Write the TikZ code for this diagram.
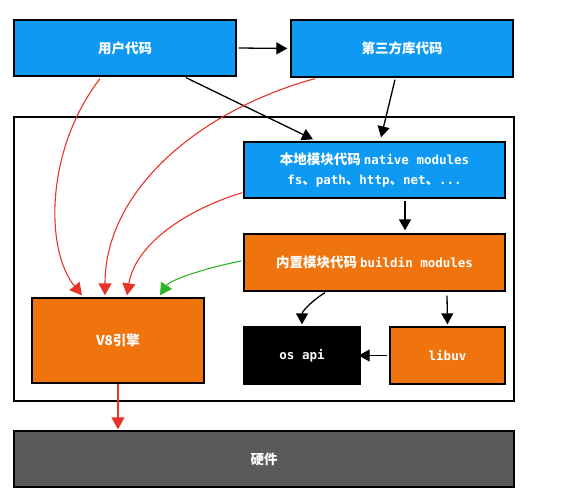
\documentclass[tikz,border=0pt]{standalone}
\usepackage{fontspec}
\setmainfont{Noto Sans CJK SC}
\newfontfamily\mono{DejaVu Sans Mono}
\usetikzlibrary{arrows.meta,calc}
\definecolor{cblue}{RGB}{14,154,242}
\definecolor{corange}{RGB}{240,116,14}
\definecolor{cgray}{RGB}{90,90,90}
\definecolor{cred}{RGB}{232,52,40}
\definecolor{cgreen}{RGB}{50,180,40}
\tikzset{
  box/.style={draw=black,line width=1.3pt,text=white,inner sep=0pt,font=\bfseries\fontsize{13.5}{16}\selectfont},
  bluebox/.style={box,fill=cblue},
  orangebox/.style={box,fill=corange},
  blackbox/.style={box,fill=black},
  graybox/.style={box,fill=cgray},
  blk/.style={line width=1.3pt,-{Triangle[width=12pt,length=11pt]}},
  redarr/.style={cred,line width=1.1pt,-{Triangle[width=13pt,length=12pt]}},
  greenarr/.style={cgreen,line width=1.1pt,-{Triangle[width=13pt,length=12pt]}},
}
\newcommand{\mt}[1]{{\mono\fontsize{12.5}{15}\selectfont #1}}
\begin{document}
\begin{tikzpicture}[x=1pt,y=-1pt]
\useasboundingbox (0,0) rectangle (567,500);
\fill[white] (0,0) rectangle (567,500);
% outer container
\node[draw=black,line width=1.3pt,minimum width=500pt,minimum height=284pt,inner sep=0pt] (outer) at (264,259) {};
\node[bluebox,minimum width=222pt,minimum height=56pt] (user) at (125,48) {用户代码};
\node[bluebox,minimum width=222pt,minimum height=57pt] (third) at (402,48.5) {第三方库代码};
\node[bluebox,minimum width=261pt,minimum height=56pt,align=center] (native) at (374.5,170)
  {本地模块代码 \mt{native modules}\\[4pt]\mt{fs}、\mt{path}、\mt{http}、\mt{net}、\mt{...}};
\node[orangebox,minimum width=261pt,minimum height=57pt] (buildin) at (374.5,262.5)
  {内置模块代码 \mt{buildin modules}};
\node[orangebox,minimum width=172pt,minimum height=85pt] (v8) at (118,340.5) {V8引擎};
\node[blackbox,minimum width=116pt,minimum height=57pt] (osapi) at (302,355.5) {\mt{os api}};
\node[orangebox,minimum width=115pt,minimum height=57pt] (libuv) at (447.5,355.5) {\mt{libuv}};
\node[graybox,minimum width=500pt,minimum height=56pt] (hw) at (264,459) {硬件};
% black arrows
\draw[blk] ([xshift=2pt]user.east) -- ([xshift=-3pt]third.west);
\draw[blk] ([xshift=61pt,yshift=-1pt]user.south) -- ([xshift=-61.5pt,yshift=2pt]native.north);
\draw[blk] ([xshift=-7pt,yshift=-2pt]third.south) -- ([xshift=6.5pt,yshift=4pt]native.north);
\draw[blk] ([xshift=30.5pt,yshift=-2pt]native.south) -- ([xshift=30.5pt,yshift=3pt]buildin.north);
\draw[blk] ([xshift=-49.5pt,yshift=-1pt]buildin.south) .. controls (310,302) and (302,312) .. ([yshift=2pt]osapi.north);
\draw[blk] ([xshift=72.5pt,yshift=-4pt]buildin.south) -- ([yshift=2pt]libuv.north);
\draw[blk] ([xshift=-2pt]libuv.west) -- ([xshift=-2pt]osapi.east);
% red arrows
\draw[redarr] ([xshift=-25pt,yshift=-2pt]user.south) .. controls (45,150) and (45,250) .. ([xshift=-36pt,yshift=2pt]v8.north);
\draw[redarr] ([xshift=-87pt,yshift=-1pt]third.south) .. controls (200,110) and (105,190) .. ([xshift=-13pt,yshift=2pt]v8.north);
\draw[redarr] ([xshift=-1pt,yshift=6pt]native.south west) .. controls (185,210) and (135,245) .. ([xshift=9pt,yshift=2pt]v8.north);
\draw[greenarr] ([xshift=-2pt,yshift=1.5pt]buildin.west) .. controls (205,268) and (170,280) .. ([xshift=42pt,yshift=2pt]v8.north);
\draw[redarr] (v8.south) -- ([yshift=1pt]hw.north -| v8.south);
\end{tikzpicture}
\end{document}
